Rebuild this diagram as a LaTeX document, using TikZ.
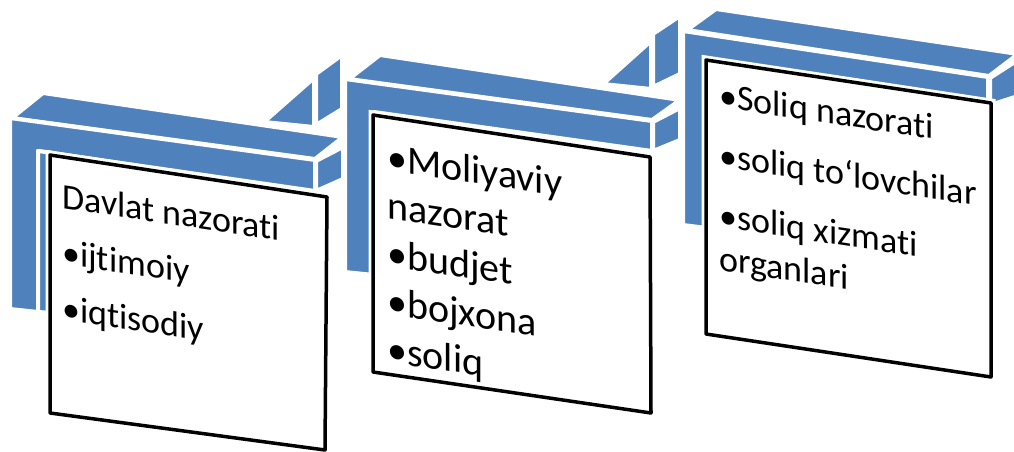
\documentclass[tikz,border=0pt]{standalone}
\usepackage{fontspec}
\setmainfont{Carlito}[Ligatures=NoCommon]
\definecolor{barblue}{HTML}{4F81BD}

\begin{document}
\begin{tikzpicture}[x=1pt,y=-1pt,
    face/.style={fill=barblue,draw=white,line width=4pt,line join=round},
    card/.style={fill=white,draw=black,line width=3.5pt,line join=round,
        preaction={draw=white,line width=9pt}},
    cardtext/.style={anchor=base west,inner sep=0pt,yslant=-0.15}]
    \useasboundingbox (0,0) rectangle (1014,452);

    \draw[face] (264,122) -- (314,78) -- (314,127) -- cycle;
    \draw[face] (316,74) -- (342,55) -- (342,109) -- (316,125) -- cycle;
    \draw[face] (603,84) -- (651,41) -- (651,89) -- cycle;
    \draw[face] (653,34) -- (680,16) -- (680,74) -- (653,87) -- cycle;

    \draw[face] (12,118) -- (43,93) -- (343,137) -- (315,159) -- cycle;
    \draw[face] (316,161) -- (343,147) -- (343,179) -- (316,191) -- cycle;
    \draw[face] (10,118) -- (315,160) -- (315,191) -- (38,151) -- (38,312) -- (10,309) -- cycle;
    \draw[face] (38,151) -- (53,153) -- (53,313) -- (38,312) -- cycle;

    \draw[face] (349,79) -- (380,55) -- (680,100) -- (652,120) -- cycle;
    \draw[face] (653,122) -- (680,108) -- (680,140) -- (653,151) -- cycle;
    \draw[face] (345,79) -- (652,121) -- (652,151) -- (374,112) -- (374,275) -- (345,272) -- cycle;

    \draw[face] (687,30) -- (716,9) -- (1018,54) -- (989,76) -- cycle;
    \draw[face] (990,78) -- (1018,60) -- (1018,96) -- (990,105) -- cycle;
    \draw[face] (683,31) -- (988,77) -- (988,104) -- (707,62) -- (707,228) -- (683,225) -- cycle;

    \draw[card] (50,155) -- (327,197) -- (325,450) -- (50,413) -- cycle;
    \draw[card] (373,115) -- (650,157) -- (651,413) -- (373,372) -- cycle;
    \draw[card] (706,60) -- (991,103) -- (991,377) -- (706,334) -- cycle;

    \node[cardtext] (davlat) at (62,208) {\parbox[t]{260pt}{\fontsize{36}{43}\selectfont
        Davlat nazorati\\[13pt] •ijtimoiy\\[13pt] •iqtisodiy}};
    \node[cardtext] (moliya) at (387,170) {\parbox[t]{260pt}{\fontsize{40}{48}\selectfont
        •Moliyaviy\\ nazorat\\ •budjet\\ •bojxona\\ •soliq}};
    \node[cardtext] (soliq) at (719,107) {\parbox[t]{270pt}{\fontsize{36}{43}\selectfont
        •Soliq nazorati\\[17pt] •soliq to‘lovchilar\\[17pt] •soliq xizmati\\ organlari}};
\end{tikzpicture}
\end{document}
